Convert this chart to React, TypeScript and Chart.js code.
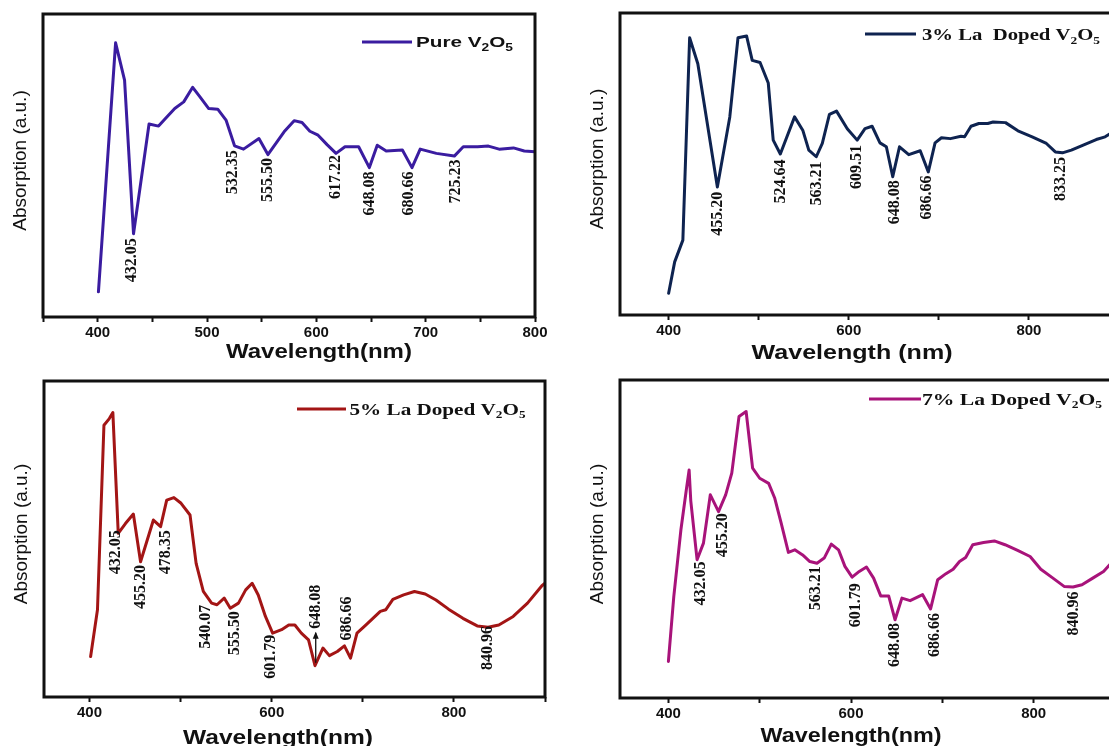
import { useEffect, useRef } from 'react';
import { Chart, registerables } from 'chart.js';

Chart.register(...registerables);

// ---------------- data ----------------
// Pure V2O5
const pureWavelength = [400.7, 416.4, 424.6, 432.8, 447, 455.7, 462, 470.5, 478.7, 486.9, 493.4, 501.6, 509.8, 517.4, 525.2, 533.4, 547.5, 555.7, 570.5, 579.7, 586.9, 594.1, 601.6, 609.8, 618, 626.2, 638.7, 648.5, 655.7, 663.9, 678.7, 687.5, 695, 709.8, 726.2, 734.4, 747.5, 757.4, 767.2, 780.3, 790.2, 800];
const pureAbsorption = [8.3, 90.5, 78.2, 27.5, 63.7, 63, 65.5, 68.8, 71, 75.8, 72.7, 68.8, 68.6, 65, 56.5, 55.4, 58.9, 53.6, 61.1, 64.8, 64.2, 61.3, 60, 56.9, 54, 56.2, 56.2, 49.3, 56.7, 54.8, 55.1, 49.3, 55.4, 54, 53.1, 56.2, 56.2, 56.4, 55.4, 55.8, 54.8, 54.5];
const purePeakText = ['432.05', '532.35', '555.50', '617.22', '648.08', '680.66', '725.23'];
const purePeakAt = [431.1, 524, 555.7, 618, 648.5, 685, 727.9];
const purePeakTop = [26, 55, 52.5, 53.5, 48, 48, 52];

// 3% La doped V2O5
const la3Wavelength = [400, 406.7, 415.8, 423.3, 432.4, 454.1, 467.9, 477, 486.5, 492.8, 501.5, 510.6, 516.1, 524, 539.8, 548.9, 555.6, 563.9, 570.6, 578.5, 586.4, 598.3, 609.3, 618, 625.9, 634.6, 641.7, 648.8, 656.3, 666.6, 679.3, 688.3, 695.8, 702.9, 712.8, 724.6, 728.6, 735.7, 744.4, 754.3, 760.2, 774, 787.8, 803.6, 819.4, 829.3, 837.2, 847.1, 862.9, 874.7, 884.6, 890.5, 900];
const la3Absorption = [7.2, 17.6, 24.8, 91.8, 83.2, 42.4, 65.6, 91.8, 92.4, 84.3, 83.6, 76.8, 57.9, 53.3, 65.6, 61.2, 54.6, 52.4, 56.8, 66.4, 67.5, 61.7, 57.9, 61.7, 62.5, 57, 55.7, 45.8, 55.7, 53.1, 54.4, 47.4, 57, 58.7, 58.4, 59.2, 59, 62.5, 63.4, 63.4, 63.9, 63.7, 61, 59, 56.8, 54, 53.7, 54.6, 56.6, 58.1, 59, 60.1, 62];
const la3PeakText = ['455.20', '524.64', '563.21', '609.51', '648.08', '686.66', '833.25'];
const la3PeakAt = [454.1, 524.4, 564.7, 609.3, 651.6, 687.1, 836];
const la3PeakTop = [40.8, 51.5, 50.8, 56.3, 44.6, 46.2, 52.3];

// 5% La doped V2O5
const la5Wavelength = [401.2, 408.7, 415.8, 421.7, 425.6, 431.5, 439.4, 448.1, 456, 470.1, 478, 484.7, 492.6, 500.5, 510.3, 517, 524.9, 534, 539.9, 547.8, 554.5, 563.5, 571.4, 578.5, 585.2, 593.1, 601, 610.8, 618.7, 625.4, 632.5, 640.4, 647.5, 656.2, 663.3, 672, 679.8, 686.5, 693.6, 703.5, 719.2, 725.1, 733, 744.8, 756.7, 768.5, 780.3, 794.1, 809.9, 825.6, 837.5, 849.3, 865.1, 880.8, 896.6, 900];
const la5Absorption = [12.8, 27.6, 86, 88.1, 90, 51.8, 54.9, 57.9, 42.8, 56, 53.9, 62.3, 63.1, 61.3, 57.6, 42.3, 33.4, 29.7, 29.2, 31.3, 28.1, 29.7, 33.9, 36, 32.3, 25.5, 20.2, 21.3, 22.8, 22.8, 20.2, 18.1, 9.9, 15.5, 13.1, 14.4, 16.2, 12.3, 20.2, 22.8, 27.1, 27.6, 30.9, 32.3, 33.4, 32.6, 30.7, 27.8, 24.9, 22.5, 22.1, 22.8, 25.5, 29.7, 35.2, 36];
const la5PeakText = ['432.05', '455.20', '478.35', '540.07', '555.50', '601.79', '648.08', '686.66', '840.96'];
const la5PeakAt = [428.4, 456, 483.5, 528, 559.6, 599, 648.3, 683, 837.4];
const la5PeakTop = [52.8, 41.8, 52.8, 29.2, 27.1, 19.7, 35.5, 31.8, 22.5];
const la5ArrowAt = [648.3];
const la5ArrowFrom = [10.8];
const la5ArrowTo = [20.3];

// 7% La doped V2O5
const la7Wavelength = [400, 405.9, 413.7, 419.6, 422.7, 424.5, 431.4, 438.4, 445.9, 454.9, 462.7, 469.4, 477.3, 485.1, 492.2, 500, 509.8, 516.5, 523.5, 531.4, 538.4, 547, 554.9, 562.7, 570.6, 578.4, 586.3, 593.3, 601.2, 609, 616.9, 624.7, 632.5, 641.2, 648.2, 655.7, 664.7, 678.4, 687.1, 694.9, 703.9, 711.8, 718.8, 725.5, 733.3, 745.1, 756.9, 768.6, 782.4, 796.1, 807.8, 819.6, 833.3, 843.1, 852.9, 864.7, 876.5, 888.2, 894, 900];
const la7Absorption = [11.5, 31.9, 52.9, 65.4, 71.7, 62, 43.5, 48.7, 63.9, 58.6, 63.9, 70.7, 88.5, 90.1, 72.3, 69.1, 67.5, 62.8, 55, 45.8, 46.6, 45, 42.9, 42.4, 44, 48.4, 46.6, 41.4, 38, 39.8, 41.2, 37.7, 32.1, 32.1, 24.6, 31.4, 30.6, 32.5, 28, 37.2, 39.1, 40.5, 42.9, 44.2, 48.2, 48.9, 49.4, 48.2, 46.4, 44.5, 40.5, 38, 35.1, 34.9, 35.6, 37.7, 39.8, 43.5, 45, 47];
const la7PeakText = ['432.05', '455.20', '563.21', '601.79', '648.08', '686.66', '840.96'];
const la7PeakAt = [435.3, 460, 562, 605.1, 648.2, 692.2, 844.3];
const la7PeakTop = [42.9, 58.1, 41.4, 36.1, 23.6, 26.7, 33.5];

// ticks
const pureTicks = [350, 400, 450, 500, 550, 600, 650, 700, 750, 800];
const pureTickLabels = [400, 500, 600, 700, 800];
const wideTicks = [400, 500, 600, 700, 800, 900];
const wideTickLabels = [400, 600, 800];

const seriesNames = ['Pure V_2O_5', '3% La  Doped V_2O_5', '5% La Doped V_2O_5', '7% La Doped V_2O_5'];
const xTitles = ['Wavelength(nm)', 'Wavelength (nm)', 'Wavelength(nm)', 'Wavelength(nm)'];
const yTitle = 'Absorption (a.u.)';

// ---------------- helpers ----------------
const SANS = '"Liberation Sans", Arial, sans-serif';
const SERIF = '"Liberation Serif", "Times New Roman", serif';

function parseSegs(s: string) {
  const segs: { t: string; sub: boolean }[] = [];
  const re = /_(\d)/g;
  let last = 0;
  let m: RegExpExecArray | null;
  while ((m = re.exec(s))) {
    if (m.index > last) segs.push({ t: s.slice(last, m.index), sub: false });
    segs.push({ t: m[1], sub: true });
    last = m.index + m[0].length;
  }
  if (last < s.length) segs.push({ t: s.slice(last), sub: false });
  return segs;
}

function drawRich(ctx: CanvasRenderingContext2D, text: string, x: number, yMid: number, size: number, family: string, weight: string, width: number, centered = false) {
  const segs = parseSegs(text);
  const subSize = Math.round(size * 0.64);
  const fMain = `${weight} ${size}px ${family}`;
  const fSub = `${weight} ${subSize}px ${family}`;
  let w0 = 0;
  segs.forEach((s) => {
    ctx.font = s.sub ? fSub : fMain;
    w0 += ctx.measureText(s.t).width;
  });
  const sx = width ? width / w0 : 1;
  const startX = centered ? x - (w0 * sx) / 2 : x;
  ctx.save();
  ctx.translate(startX, yMid + size * 0.35);
  ctx.scale(sx, 1);
  ctx.textAlign = 'left';
  ctx.textBaseline = 'alphabetic';
  ctx.fillStyle = '#111';
  let cx = 0;
  segs.forEach((s) => {
    ctx.font = s.sub ? fSub : fMain;
    ctx.fillText(s.t, cx, s.sub ? size * 0.22 : 0);
    cx += ctx.measureText(s.t).width;
  });
  ctx.restore();
}

const decorPlugin = {
  id: 'decor',
  afterDatasetsDraw(chart: any, _args: any, o: any) {
    const { ctx, chartArea: a, scales } = chart;
    const xs = scales.x;
    const ys = scales.y;
    ctx.save();
    ctx.fillStyle = '#111';
    ctx.font = `bold 16px ${SERIF}`;
    ctx.textAlign = 'right';
    ctx.textBaseline = 'middle';
    o.peakText.forEach((t: string, i: number) => {
      const px = xs.getPixelForValue(o.peakAt[i]);
      const py = ys.getPixelForValue(o.peakTop[i]);
      ctx.save();
      ctx.translate(px, py);
      ctx.rotate(-Math.PI / 2);
      ctx.fillText(t, 0, 0);
      ctx.restore();
    });
    (o.arrowAt || []).forEach((v: number, i: number) => {
      const px = xs.getPixelForValue(v);
      const y1 = ys.getPixelForValue(o.arrowFrom[i]);
      const y2 = ys.getPixelForValue(o.arrowTo[i]);
      ctx.strokeStyle = '#111';
      ctx.lineWidth = 1.3;
      ctx.beginPath();
      ctx.moveTo(px, y1);
      ctx.lineTo(px, y2);
      ctx.stroke();
      ctx.beginPath();
      ctx.moveTo(px, y2 - 1);
      ctx.lineTo(px - 3, y2 + 6);
      ctx.lineTo(px + 3, y2 + 6);
      ctx.closePath();
      ctx.fill();
    });
    ctx.restore();
  },
  afterDraw(chart: any, _args: any, o: any) {
    const { ctx, chartArea: a, scales } = chart;
    const xs = scales.x;
    ctx.save();
    // frame
    ctx.strokeStyle = '#111';
    ctx.lineWidth = 3;
    ctx.strokeRect(a.left, a.top, a.right - a.left, a.bottom - a.top);
    // legend
    const lg = o.legend;
    ctx.strokeStyle = o.color;
    ctx.lineWidth = 3;
    ctx.beginPath();
    ctx.moveTo(a.left + lg.lineX, a.top + lg.y);
    ctx.lineTo(a.left + lg.lineX + lg.lineLen, a.top + lg.y);
    ctx.stroke();
    drawRich(ctx, o.name, a.left + lg.textX, a.top + lg.y, lg.size, lg.family, 'bold', lg.width);
    // x title
    const xt = o.xTitle;
    drawRich(ctx, xt.text, xs.getPixelForValue(xt.at), a.bottom + xt.dy, 21, SANS, 'bold', xt.width, true);
    // y title
    ctx.save();
    ctx.translate(a.left - 22, (a.top + a.bottom) / 2 - 5);
    ctx.rotate(-Math.PI / 2);
    ctx.font = `19px ${SANS}`;
    ctx.fillStyle = '#111';
    ctx.textAlign = 'center';
    ctx.textBaseline = 'middle';
    ctx.fillText(yTitle, 0, 0);
    ctx.restore();
    ctx.restore();
  },
};

type PanelCfg = {
  left: number; top: number; w: number; h: number;
  pad: { left: number; top: number; right: number }; axisH: number;
  xMin: number; xMax: number; ticks: number[]; tickLabels: number[];
  nm: number[]; abs: number[]; color: string;
  peakText: string[]; peakAt: number[]; peakTop: number[];
  arrowAt?: number[]; arrowFrom?: number[]; arrowTo?: number[];
  name: string;
  legend: { lineX: number; y: number; lineLen: number; textX: number; width: number; size: number; family: string };
  xTitle: { text: string; at: number; dy: number; width: number };
};

const panels: PanelCfg[] = [
  {
    left: 0, top: 0, w: 555, h: 370, pad: { left: 43, top: 14, right: 20 }, axisH: 53,
    xMin: 350, xMax: 800, ticks: pureTicks, tickLabels: pureTickLabels,
    nm: pureWavelength, abs: pureAbsorption, color: '#3a1ca0',
    peakText: purePeakText, peakAt: purePeakAt, peakTop: purePeakTop,
    name: seriesNames[0],
    legend: { lineX: 319, y: 28, lineLen: 50, textX: 373, width: 97, size: 15, family: SANS },
    xTitle: { text: xTitles[0], at: 602.4, dy: 34, width: 186 },
  },
  {
    left: 555, top: 0, w: 600, h: 370, pad: { left: 65, top: 13, right: 36 }, axisH: 55,
    xMin: 346, xMax: 900, ticks: wideTicks, tickLabels: wideTickLabels,
    nm: la3Wavelength, abs: la3Absorption, color: '#0e2350',
    peakText: la3PeakText, peakAt: la3PeakAt, peakTop: la3PeakTop,
    name: seriesNames[1],
    legend: { lineX: 245, y: 21, lineLen: 51, textX: 302, width: 178, size: 17, family: SERIF },
    xTitle: { text: xTitles[1], at: 603.6, dy: 37, width: 201 },
  },
  {
    left: 0, top: 370, w: 555, h: 376, pad: { left: 44, top: 11, right: 10 }, axisH: 49,
    xMin: 350, xMax: 900, ticks: wideTicks, tickLabels: wideTickLabels,
    nm: la5Wavelength, abs: la5Absorption, color: '#a31515',
    peakText: la5PeakText, peakAt: la5PeakAt, peakTop: la5PeakTop,
    arrowAt: la5ArrowAt, arrowFrom: la5ArrowFrom, arrowTo: la5ArrowTo,
    name: seriesNames[2],
    legend: { lineX: 253, y: 28, lineLen: 49, textX: 305.5, width: 176, size: 16, family: SERIF },
    xTitle: { text: xTitles[2], at: 606.9, dy: 40, width: 190 },
  },
  {
    left: 555, top: 370, w: 600, h: 376, pad: { left: 65, top: 10, right: 30 }, axisH: 48,
    xMin: 347, xMax: 900, ticks: wideTicks, tickLabels: wideTickLabels,
    nm: la7Wavelength, abs: la7Absorption, color: '#a8137a',
    peakText: la7PeakText, peakAt: la7PeakAt, peakTop: la7PeakTop,
    name: seriesNames[3],
    legend: { lineX: 249, y: 19, lineLen: 52, textX: 302, width: 180, size: 16, family: SERIF },
    xTitle: { text: xTitles[3], at: 600, dy: 37, width: 181 },
  },
];

function Panel({ cfg }: { cfg: PanelCfg }) {
  const ref = useRef<HTMLCanvasElement>(null);
  useEffect(() => {
    if (!ref.current) return;
    const chart = new Chart(ref.current, {
      type: 'line',
      data: {
        datasets: [
          {
            data: cfg.nm.map((x, i) => ({ x, y: cfg.abs[i] })),
            borderColor: cfg.color,
            borderWidth: 3,
            pointRadius: 0,
            tension: 0,
            fill: false,
            borderJoinStyle: 'round',
            borderCapStyle: 'round',
          },
        ],
      },
      options: {
        responsive: false,
        animation: false,
        events: [],
        layout: { padding: { left: cfg.pad.left, top: cfg.pad.top, right: cfg.pad.right, bottom: 0 } },
        plugins: {
          legend: { display: false },
          tooltip: { enabled: false },
          decor: {
            color: cfg.color,
            peakText: cfg.peakText, peakAt: cfg.peakAt, peakTop: cfg.peakTop,
            arrowAt: cfg.arrowAt, arrowFrom: cfg.arrowFrom, arrowTo: cfg.arrowTo,
            name: cfg.name, legend: cfg.legend, xTitle: cfg.xTitle,
          },
        } as any,
        scales: {
          x: {
            type: 'linear',
            min: cfg.xMin,
            max: cfg.xMax,
            afterBuildTicks: (s: any) => {
              s.ticks = cfg.ticks.map((v) => ({ value: v }));
            },
            afterFit: (s: any) => {
              s.height = cfg.axisH;
            },
            ticks: {
              autoSkip: false,
              maxRotation: 0,
              padding: 2,
              color: '#111',
              font: { family: SANS, weight: 'bold', size: 15 },
              callback: (v: any) => (cfg.tickLabels.includes(Number(v)) ? String(v) : ''),
            },
            grid: { drawOnChartArea: false, drawTicks: true, tickLength: 5, tickWidth: 2, tickColor: '#111' },
            border: { display: false },
          },
          y: { display: false, min: 0, max: 100 },
        },
      } as any,
      plugins: [decorPlugin as any],
    });
    return () => chart.destroy();
  }, [cfg]);
  return (
    <canvas
      ref={ref}
      width={cfg.w}
      height={cfg.h}
      style={{ position: 'absolute', left: cfg.left, top: cfg.top, width: cfg.w, height: cfg.h, display: 'block' }}
    />
  );
}

export default function App() {
  return (
    <div style={{ position: 'absolute', left: 0, top: 0, width: 1109, height: 746, overflow: 'hidden', background: '#fff' }}>
      {panels.map((p, i) => (
        <Panel key={i} cfg={p} />
      ))}
    </div>
  );
}
